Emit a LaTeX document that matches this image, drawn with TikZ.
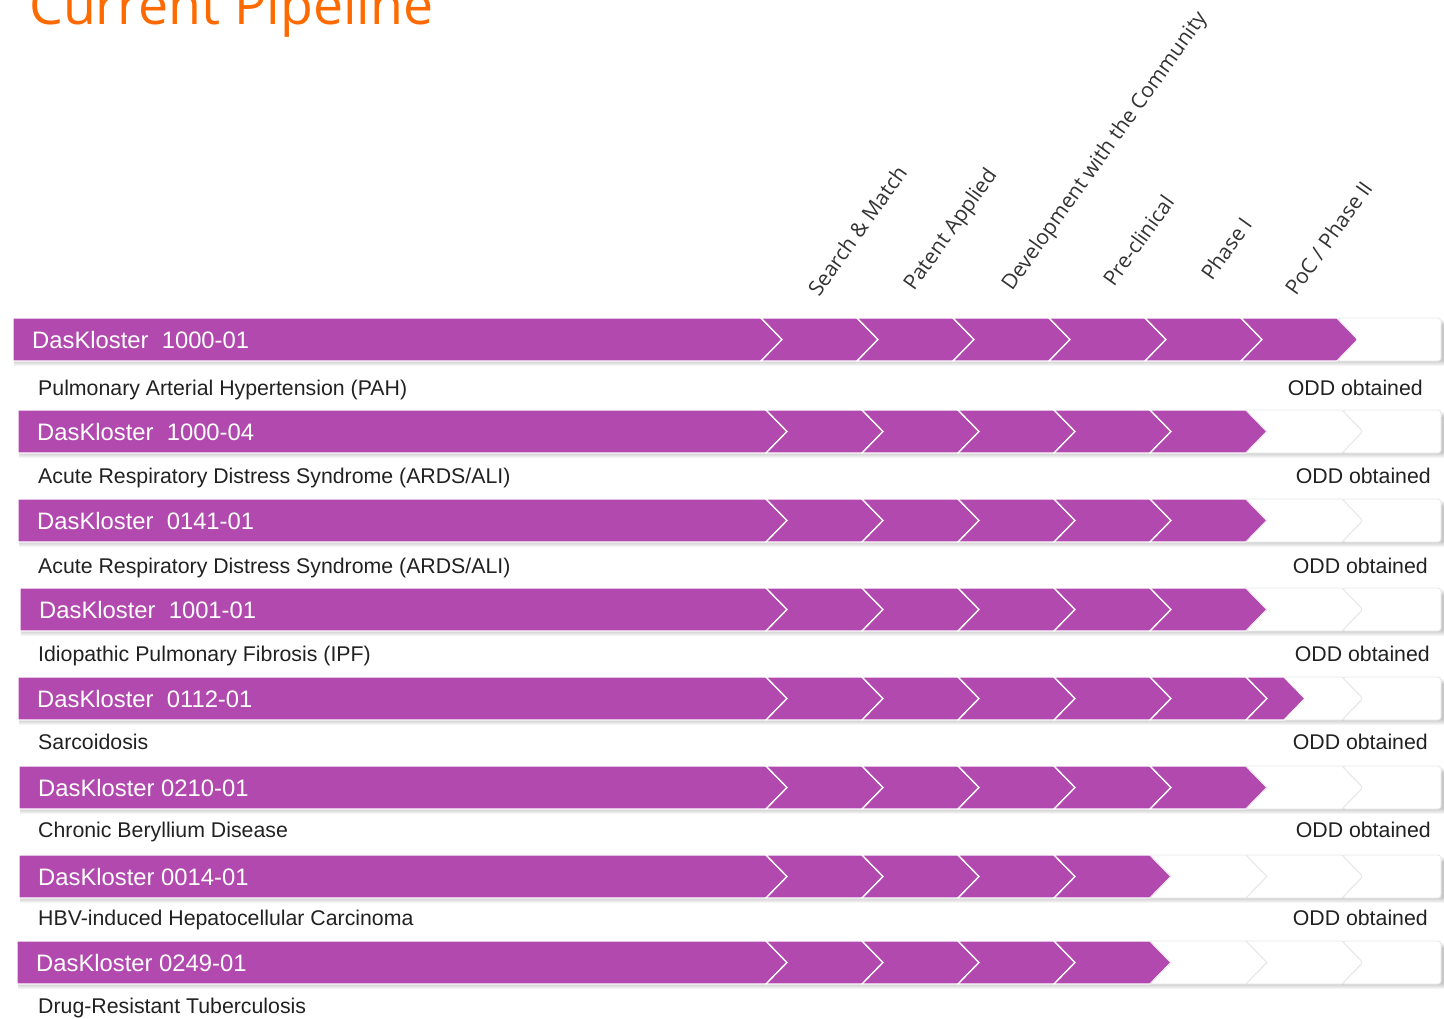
\documentclass[tikz,border=0pt]{standalone}
\usepackage{fontspec}
\setmainfont{Liberation Sans}
\newfontfamily\headfont{Open Sans}
\usetikzlibrary{positioning}

\definecolor{dkpurple}{RGB}{178,73,175}
\definecolor{dkorange}{RGB}{255,106,0}

% one chevron: style, notch x, tip x, top y
\newcommand{\chevpath}[4]{%
  \path[#1] (#2-21,#4) -- (#3-21,#4) -- (#3,#4+21.5) -- (#3-21,#4+43)
    -- (#2-21,#4+43) -- (#2,#4+21.5) -- cycle;}

\tikzset{
  stage/.style={fill=dkpurple, draw=white, line width=1.3pt},
  openstage/.style={fill=white, draw=black!9, line width=0.9pt},
  barshadow/.style={fill=black, opacity=0.04},
  pagetitle/.style={anchor=base west, inner sep=0, text=dkorange,
    font=\headfont\fontsize{53.6}{60}\selectfont},
  phase/.style={anchor=base west, inner sep=0, rotate=54.5, text=black!80,
    font=\headfont\fontsize{21}{24}\selectfont},
  drugname/.style={anchor=base west, inner sep=0, text=white,
    font=\fontsize{23.8}{27}\selectfont},
  disease/.style={anchor=base west, inner sep=0, text=black!87,
    font=\fontsize{21.3}{25}\selectfont},
  oddnote/.style={anchor=base east, inner sep=0, text=black!87,
    font=\fontsize{21.3}{25}\selectfont}
}

\begin{document}
\begin{tikzpicture}[x=1pt, y=-1pt]
    \clip (0,0) rectangle (1444,1019);

    % Title
    \node[pagetitle] (title) at (29,25) {Current Pipeline};

    % Stage headings
    \foreach \x/\y/\txt [count=\k] in {819/298/{Search \& Match}, 914/292/{Patent Applied},
      1012/292/{Development with the Community}, 1114/288/{Pre-clinical},
      1212/282/{Phase I}, 1296/297/{PoC / Phase II}}
      \node[phase] (phase\k) at (\x,\y) {\txt};

    % Rows: top / left / shift / stages reached / drug / disease / text base / ODD right
    \foreach \ty/\lft/\dx/\n/\drug/\dis/\sy/\ox [count=\rw] in {
      318/13/-5/7/{DasKloster~~1000-01}/{Pulmonary Arterial Hypertension (PAH)}/395/1423,
      410/18/0/6/{DasKloster~~1000-04}/{Acute Respiratory Distress Syndrome (ARDS/ALI)}/483/1431,
      499/18/0/6/{DasKloster~~0141-01}/{Acute Respiratory Distress Syndrome (ARDS/ALI)}/573/1428,
      588/20/0/6/{DasKloster~~1001-01}/{Idiopathic Pulmonary Fibrosis (IPF)}/661/1430,
      677/18/0/6/{DasKloster~~0112-01}/{Sarcoidosis}/749/1428,
      766/19/0/6/{DasKloster 0210-01}/{Chronic Beryllium Disease}/837/1431,
      855/19/0/5/{DasKloster 0014-01}/{HBV-induced Hepatocellular Carcinoma}/925/1428,
      941/17/0/5/{DasKloster 0249-01}/{Drug-Resistant Tuberculosis}/1013/0} {

      % soft shadow under the bar
      \foreach \s in {1,...,6}
        \fill[barshadow] (\lft+1,\ty+1+\s) rectangle (1444,\ty+42+\s);

      % first long segment
      \pgfmathsetmacro\xt{787+\dx}
      \path[stage] (\lft,\ty) -- (\xt-21,\ty) -- (\xt,\ty+21.5) -- (\xt-21,\ty+43)
        -- (\lft,\ty+43) -- cycle;

      % stage chevrons
      \foreach \k in {1,...,6} {
        \pgfmathsetmacro\xa{787+96*(\k-1)+\dx}
        \pgfmathsetmacro\xb{787+96*\k+\dx}
        \ifnum\k<\n \chevpath{stage}{\xa}{\xb}{\ty}\else\chevpath{openstage}{\xa}{\xb}{\ty}\fi
      }

      % open end
      \pgfmathsetmacro\xe{787+96*6+\dx}
      \path[openstage, rounded corners=3pt] (\xe-21,\ty) -- (1441,\ty) -- (1441,\ty+43)
        -- (\xe-21,\ty+43) -- (\xe,\ty+21.5) -- cycle;

      % labels
      \node[drugname] (drug\rw) at (\lft+19,\ty+30.5) {\drug};
      \node[disease] (disease\rw) at (38,\sy) {\dis};
      \ifnum\ox>0 \node[oddnote] (odd\rw) at (\ox,\sy) {ODD obtained};\fi
    }

    % half step of 0112-01
    \chevpath{stage}{1267}{1305}{677}
\end{tikzpicture}
\end{document}
